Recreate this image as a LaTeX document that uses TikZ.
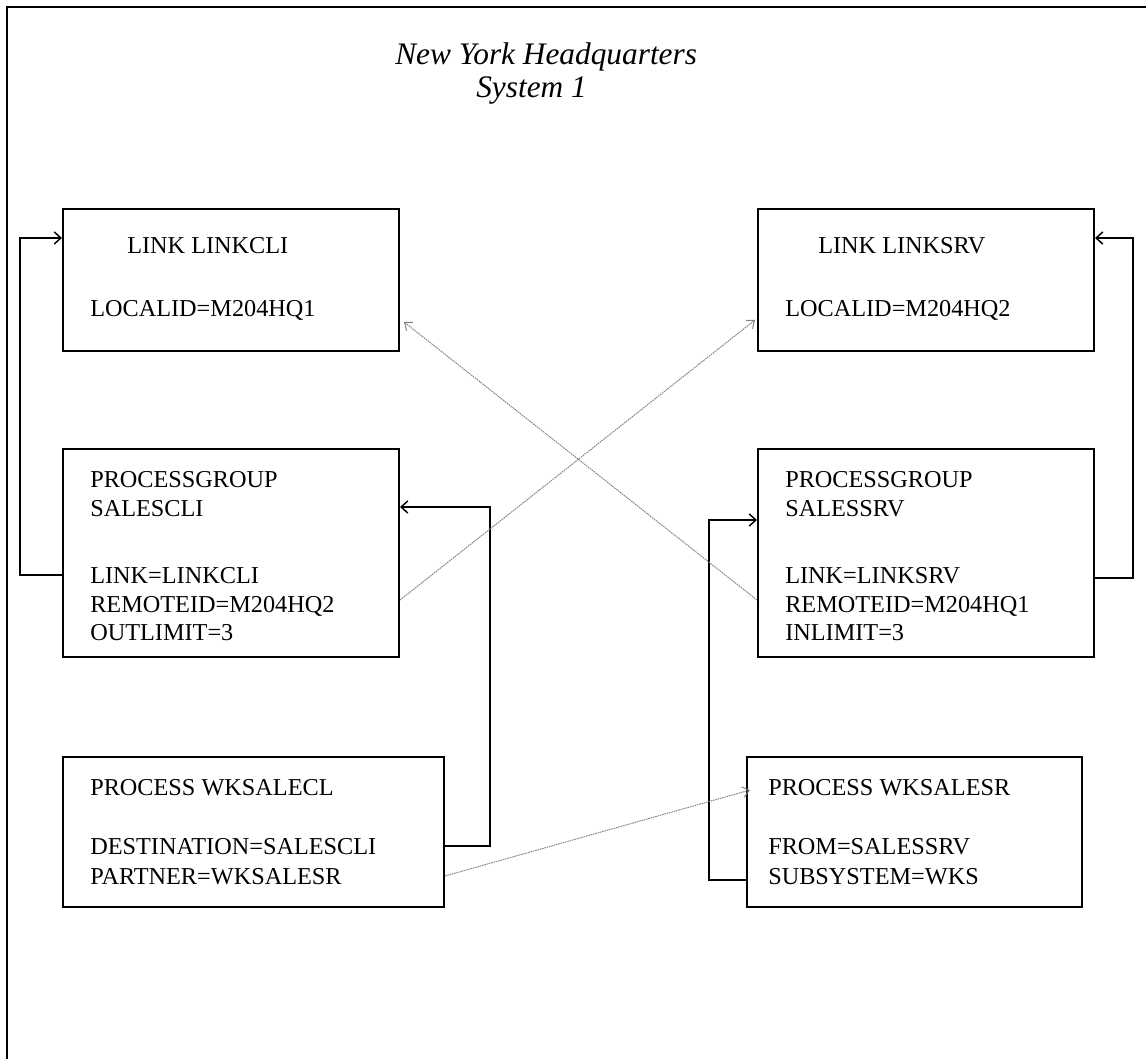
\documentclass[tikz,border=0pt]{standalone}
\usepackage{fontspec}
\setmainfont{Liberation Serif}
\usetikzlibrary{arrows.meta,calc}
\begin{document}
\begin{tikzpicture}[x=0.75pt,y=-0.75pt,
  box/.style 2 args={draw,line width=1.5pt,rectangle,inner sep=0pt,anchor=north west,
    minimum width=#1*0.75pt,minimum height=#2*0.75pt},
  txt/.style={anchor=base west,inner sep=0pt,font=\fontsize{18.2pt}{21pt}\selectfont},
  ttl/.style={anchor=base west,inner sep=0pt,font=\fontsize{23.5pt}{28pt}\selectfont\itshape},
  wire/.style={line width=1.5pt,-{Straight Barb[length=5pt,width=9pt,line width=1.1pt]}},
  ghost/.style={gray,line width=0.7pt,dash pattern=on 1.2pt off 0.6pt,
    -{Straight Barb[length=5pt,width=8pt,line width=0.7pt]}}]
\useasboundingbox (0,0) rectangle (1146,1059);
% outer frame (open at right and bottom)
\draw[line width=1.5pt] (7,1059) -- (7,7) -- (1146,7);

% title
\node[ttl] (title1) at (395,65) {New York Headquarters};
\node[ttl] (title2) at (476,98) {System 1};

% boxes
\node[box={336}{142}] (lcli) at (62,208) {};
\node[box={336}{142}] (lsrv) at (757,208) {};
\node[box={336}{208}] (pgc) at (62,448) {};
\node[box={336}{208}] (pgs) at (757,448) {};
\node[box={381}{150}] (pcl) at (62,756) {};
\node[box={335}{150}] (psr) at (746,756) {};

% box texts
\node[txt] (a1) at (127,254) {LINK LINKCLI};
\node[txt] (a2) at (90,316) {LOCALID=M204HQ1};
\node[txt] (b1) at (818,254) {LINK LINKSRV};
\node[txt] (b2) at (785,316) {LOCALID=M204HQ2};

\node[txt] (c1) at (90,487) {PROCESSGROUP};
\node[txt] (c2) at (90,516) {SALESCLI};
\node[txt] (c3) at (90,583) {LINK=LINKCLI};
\node[txt] (c4) at (90,612) {REMOTEID=M204HQ2};
\node[txt] (c5) at (90,640) {OUTLIMIT=3};

\node[txt] (d1) at (785,487) {PROCESSGROUP};
\node[txt] (d2) at (785,516) {SALESSRV};
\node[txt] (d3) at (785,583) {LINK=LINKSRV};
\node[txt] (d4) at (785,612) {REMOTEID=M204HQ1};
\node[txt] (d5) at (785,640) {INLIMIT=3};

\node[txt] (e1) at (90,795) {PROCESS WKSALECL};
\node[txt] (e2) at (90,854) {DESTINATION=SALESCLI};
\node[txt] (e3) at (90,884) {PARTNER=WKSALESR};

\node[txt] (f1) at (768,795) {PROCESS WKSALESR};
\node[txt] (f2) at (768,854) {FROM=SALESSRV};
\node[txt] (f3) at (768,884) {SUBSYSTEM=WKS};

% bend points of the solid connectors
\coordinate (l1) at (20,575);
\coordinate (l2) at (20,238);
\coordinate (r1) at (1133,578);
\coordinate (r2) at (1133,238);
\coordinate (m1) at (490,846);
\coordinate (m2) at (490,507);
\coordinate (n1) at (709,880);
\coordinate (n2) at (709,520);

\draw[wire] (l1 -| pgc.west) -- (l1) -- (l2) -- (l2 -| lcli.west);
\draw[wire] (r1 -| pgs.east) -- (r1) -- (r2) -- (r2 -| lsrv.east);
\draw[wire] (m1 -| pcl.east) -- (m1) -- (m2) -- (m2 -| pgc.east);
\draw[wire] (n1 -| psr.west) -- (n1) -- (n2) -- (n2 -| pgs.west);

% grey cross references
\draw[ghost] ($(pgs.north west)+(0,152)$) -- ($(lcli.north east)+(4,114)$);
\draw[ghost] ($(pgc.north east)+(0,152)$) -- ($(lsrv.north west)+(-2,112)$);
\draw[ghost] ($(pcl.north east)+(0,120)$) -- ($(psr.north west)+(4,34)$);
\end{tikzpicture}
\end{document}
